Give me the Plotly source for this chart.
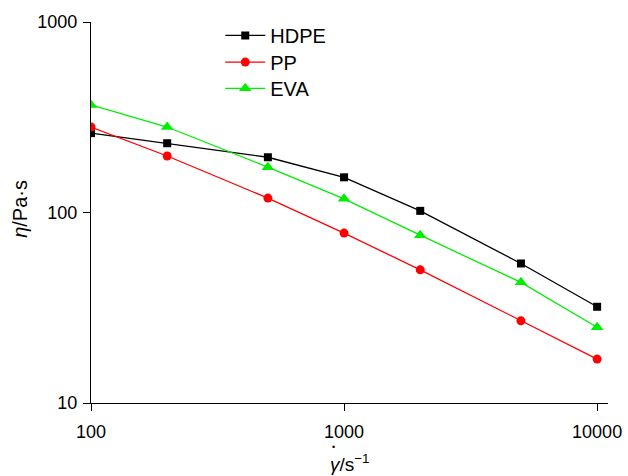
import math
import plotly.graph_objects as go

# shear rate (1/s)
shear_rate = [100, 200, 500, 1000, 2000, 5000, 10000]

# apparent viscosity (Pa·s)
hdpe = [261, 231, 195, 153, 102, 54, 32]
pp = [281, 198, 119, 78, 50, 27, 17]
eva = [367, 281, 173, 118, 76, 43, 25]

# tick positions
x_major = [100, 1000, 10000]
y_major = [10, 100, 1000]
x_minor = [m * 10 ** e for e in (2, 3) for m in range(2, 10)]
y_minor = [m * 10 ** e for e in (1, 2) for m in range(2, 10)]

series = [
    ("HDPE", hdpe, "black", "square", 8, "legend"),
    ("PP", pp, "red", "circle", 9, "legend2"),
    ("EVA", eva, "#00ee00", "triangle-up", 11, "legend3"),
]

font = "Liberation Sans, Arial, sans-serif"
X_RANGE = [2, 4.043]
Y_RANGE = [1, 3]
W, H = 628, 476
MARGIN = dict(l=91, r=20, t=22, b=73)
PLOT_W = W - MARGIN["l"] - MARGIN["r"]
PLOT_H = H - MARGIN["t"] - MARGIN["b"]
MINOR_LEN = 5

fig = go.Figure()

# minor ticks: short dash markers sitting just outside the axis lines
x_px_per_decade = PLOT_W / (X_RANGE[1] - X_RANGE[0])
y_px_per_decade = PLOT_H / (Y_RANGE[1] - Y_RANGE[0])
x_tick_row = 10 ** (Y_RANGE[0] - (MINOR_LEN / 2) / y_px_per_decade)
y_tick_col = 10 ** (X_RANGE[0] - (MINOR_LEN / 2) / x_px_per_decade)
fig.add_trace(go.Scatter(
    x=x_minor, y=[x_tick_row] * len(x_minor), mode="markers",
    marker=dict(symbol="line-ns", size=MINOR_LEN,
                line=dict(color="black", width=1.3)),
    cliponaxis=False, showlegend=False, hoverinfo="skip",
))
fig.add_trace(go.Scatter(
    x=[y_tick_col] * len(y_minor), y=y_minor, mode="markers",
    marker=dict(symbol="line-ew", size=MINOR_LEN,
                line=dict(color="black", width=1.3)),
    cliponaxis=False, showlegend=False, hoverinfo="skip",
))

for name, vals, color, symbol, size, leg in series:
    fig.add_trace(go.Scatter(
        x=shear_rate, y=vals, name=name, mode="lines+markers",
        line=dict(color=color, width=1.3),
        marker=dict(symbol=symbol, size=size, color=color, line=dict(width=0)),
        legend=leg,
    ))

axis_common = dict(
    type="log", showgrid=False, zeroline=False, showline=True,
    linecolor="black", linewidth=1.3, ticks="outside", ticklen=7,
    tickwidth=1.3, tickcolor="black", mirror=False, automargin=False,
    tickmode="array",
    tickfont=dict(family=font, size=18, color="black"),
)


def legend_box(top):
    return dict(x=0.25, y=top, xanchor="left", yanchor="top",
                font=dict(family=font, size=20, color="black"),
                bgcolor="rgba(0,0,0,0)", itemwidth=40)


fig.update_layout(
    width=W, height=H,
    margin=MARGIN,
    paper_bgcolor="white", plot_bgcolor="white",
    showlegend=True,
    legend=legend_box(1.016),
    legend2=legend_box(0.946),
    legend3=legend_box(0.877),
    xaxis=dict(**axis_common, range=X_RANGE, tickvals=x_major,
               ticktext=[str(v) for v in x_major], ticklabelstandoff=5),
    yaxis=dict(**axis_common, range=Y_RANGE, tickvals=y_major,
               ticktext=[str(v) for v in y_major], ticklabelstandoff=2),
)

# axis titles
fig.add_annotation(text="<i>η</i>/Pa·s", xref="paper", yref="paper",
                   x=-0.137, y=0.51, textangle=-90, showarrow=False,
                   xanchor="center", yanchor="middle",
                   font=dict(family=font, size=20, color="black"))
fig.add_annotation(text="<i>γ</i>/s<sup>−1</sup>", xref="paper", yref="paper",
                   x=0.5, y=-0.157, showarrow=False,
                   xanchor="center", yanchor="middle",
                   font=dict(family=font, size=19, color="black"))
# overdot on the shear-rate symbol
fig.add_annotation(text="•", xref="paper", yref="paper", x=0.470, y=-0.115,
                   xanchor="center", yanchor="middle", showarrow=False,
                   font=dict(family=font, size=9, color="black"))

fig.write_html("out.html")
